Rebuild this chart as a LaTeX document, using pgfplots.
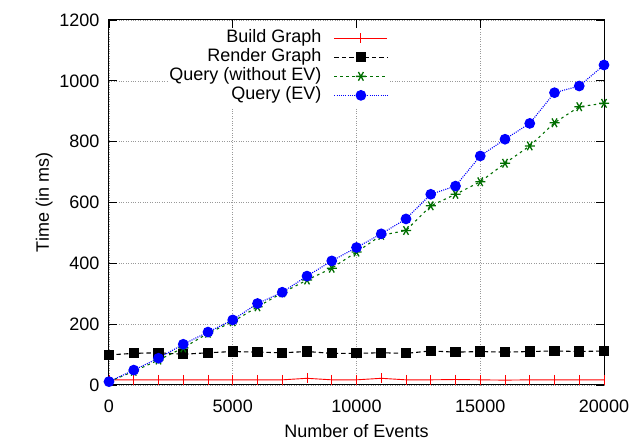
\documentclass[border=0pt]{standalone}
\usepackage{pgfplots}
\pgfplotsset{compat=1.18}
\usepackage{fontspec}
\setmainfont{Liberation Sans}
\definecolor{gpgreen}{RGB}{0,110,0}
\begin{document}
\begin{tikzpicture}
\begin{axis}[
  scale only axis,
  width=495pt, height=365pt,
  xmin=0, xmax=20000, ymin=0, ymax=1200,
  xtick={0,5000,10000,15000,20000},
  ytick={0,200,400,600,800,1000,1200},
  scaled x ticks=false,
  /pgf/number format/assume math mode=true,
  /pgf/number format/1000 sep={},
  font=\fontsize{18}{21}\selectfont,
  tick align=inside,
  major tick length=8pt,
  tick style={black, line width=0.8pt},
  axis line style={black, line width=1pt},
  grid=major,
  major grid style={gray!80, dotted, line width=0.6pt},
  xticklabel style={yshift=-11pt},
  yticklabel style={xshift=-6pt},
  xlabel={Number of Events},
  ylabel={Time (in ms)},
  xlabel style={inner sep=0pt, text depth=0pt, yshift=-9pt},
  ylabel style={yshift=0pt},
  legend plot pos=right,
  legend cell align=right,
  legend style={at={(0.566,0.979)}, anchor=north east, draw=white, fill=white,
    row sep=0pt, inner sep=1pt, font=\fontsize{18}{21}\selectfont,
    nodes={inner sep=0.5pt, text height=13pt, text depth=5pt},
    /tikz/every odd column/.append style={column sep=12pt}},
  legend image code/.code={\draw[mark repeat=2,mark phase=2,#1] plot coordinates {(0pt,0pt) (26.5pt,0pt) (53pt,0pt)};},
]
\addplot[red, line width=0.9pt, mark=|, mark size=5pt, mark options={solid, line width=0.9pt}] coordinates {
(0,17)(1000,17)(2000,17)(3000,17)(4000,17)(5000,17)(6000,17)(7000,17)(8000,22)(9000,17)(10000,17)
(11000,22)(12000,17)(13000,17)(14000,18)(15000,17)(16000,16)(17000,17)(18000,17)(19000,17)(20000,17)};
\addlegendentry{Build Graph}
\addplot[black, line width=1.1pt, dash pattern=on 4.5pt off 3pt, mark=square*, mark size=4.5pt, mark options={solid}] coordinates {
(0,99)(1000,104)(2000,106)(3000,101)(4000,106)(5000,110)(6000,108)(7000,106)(8000,110)(9000,104)(10000,104)
(11000,106)(12000,104)(13000,112)(14000,108)(15000,110)(16000,108)(17000,110)(18000,112)(19000,110)(20000,112)};
\addlegendentry{Render Graph}
\addplot[gpgreen, line width=1.1pt, dash pattern=on 2.5pt off 3.5pt, mark=asterisk, mark size=5pt, mark options={solid, line width=1.3pt, rotate=90}] coordinates {
(0,11)(1000,45)(2000,82)(3000,122)(4000,170)(5000,208)(6000,257)(7000,303)(8000,345)(9000,384)(10000,437)
(11000,492)(12000,508)(13000,589)(14000,627)(15000,668)(16000,729)(17000,786)(18000,862)(19000,915)(20000,926)};
\addlegendentry{Query (without EV)}
\addplot[blue, line width=1.1pt, dash pattern=on 1pt off 1.2pt, mark=*, mark size=4.8pt, mark options={solid}] coordinates {
(0,11)(1000,49)(2000,88)(3000,134)(4000,174)(5000,214)(6000,268)(7000,305)(8000,358)(9000,408)(10000,452)
(11000,497)(12000,546)(13000,627)(14000,654)(15000,753)(16000,808)(17000,860)(18000,961)(19000,983)(20000,1052)};
\addlegendentry{Query (EV)}
\end{axis}
\pgfresetboundingbox
\path (current axis.south west) ++(-109pt,-56pt) rectangle ++(634pt,441pt);
\end{tikzpicture}
\end{document}
